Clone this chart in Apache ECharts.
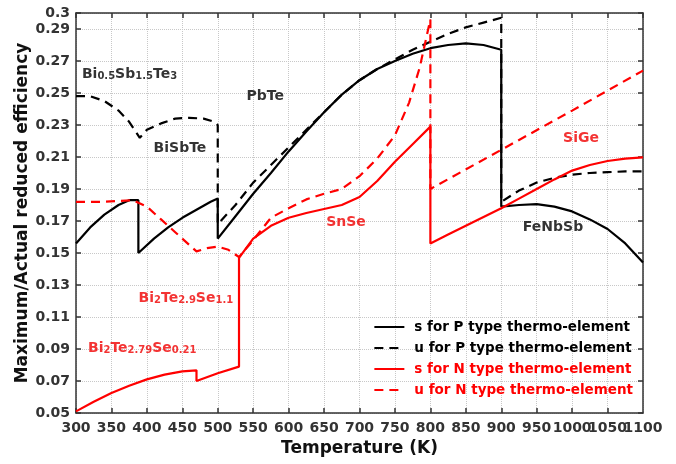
<!DOCTYPE html>
<html>
<head>
<meta charset="utf-8">
<script src="https://cdn.jsdelivr.net/npm/echarts@6/dist/echarts.min.js"></script>
<style>
  html, body { margin: 0; padding: 0; background: #fff; }
  #chart { width: 676px; height: 464px; }
</style>
</head>
<body>
<div id="chart"></div>
<script>
// temperature (K), reduced efficiency
var pSolid = [
	[300, 0.156], [320, 0.166], [340, 0.174], [360, 0.180], [375, 0.183], [388, 0.183],
	[388, 0.150], [410, 0.159], [430, 0.166], [450, 0.172], [470, 0.177], [490, 0.182], [500, 0.184],
	[500, 0.159], [525, 0.173], [550, 0.187], [575, 0.200], [600, 0.2135], [625, 0.226], [650, 0.238],
	[675, 0.249], [700, 0.258], [725, 0.265], [750, 0.270], [775, 0.2745], [800, 0.278], [825, 0.280],
	[850, 0.281], [875, 0.280], [900, 0.277],
	[900, 0.179], [925, 0.180], [950, 0.1805], [975, 0.179], [1000, 0.176], [1025, 0.171],
	[1050, 0.165], [1075, 0.156], [1100, 0.144]
];
var pDash = [
	[300, 0.248], [320, 0.248], [340, 0.245], [360, 0.239], [375, 0.232], [390, 0.222],
	[400, 0.227], [420, 0.231], [440, 0.234], [460, 0.2345], [480, 0.234], [495, 0.232], [500, 0.230],
	[500, 0.168], [525, 0.180], [550, 0.194], [575, 0.205], [600, 0.216], [625, 0.227], [650, 0.238],
	[675, 0.249], [700, 0.258], [725, 0.265], [750, 0.271], [775, 0.277], [800, 0.282], [825, 0.287],
	[850, 0.291], [875, 0.294], [900, 0.297],
	[900, 0.182], [925, 0.189], [950, 0.194], [975, 0.197], [1000, 0.199], [1025, 0.200],
	[1050, 0.2005], [1075, 0.201], [1100, 0.201]
];
var nSolid = [
	[300, 0.051], [325, 0.057], [350, 0.0625], [375, 0.067], [400, 0.071], [425, 0.074],
	[450, 0.076], [470, 0.0767],
	[470, 0.070], [500, 0.0748], [530, 0.079],
	[530, 0.147], [550, 0.159], [575, 0.167], [600, 0.172], [625, 0.175], [650, 0.1775],
	[675, 0.180], [700, 0.185], [725, 0.195], [750, 0.207], [775, 0.218], [800, 0.229],
	[800, 0.156], [825, 0.1615], [850, 0.167], [875, 0.1725], [900, 0.178], [925, 0.184],
	[950, 0.190], [975, 0.196], [1000, 0.2015], [1025, 0.205], [1050, 0.2075], [1075, 0.209], [1100, 0.2098]
];
var nDash = [
	[300, 0.182], [340, 0.182], [380, 0.183], [400, 0.179], [420, 0.171], [440, 0.163],
	[460, 0.155], [470, 0.151], [485, 0.153], [500, 0.154], [515, 0.152], [530, 0.1475],
	[550, 0.158], [575, 0.172], [600, 0.178], [625, 0.1835], [650, 0.187], [675, 0.190],
	[700, 0.198], [725, 0.209], [750, 0.2235], [770, 0.244], [785, 0.266], [800, 0.296],
	[800, 0.190], [900, 0.2145], [1000, 0.239], [1100, 0.264]
];
var seriesNames = [
	's for P type thermo-element',
	'u for P type thermo-element',
	's for N type thermo-element',
	'u for N type thermo-element'
];
// material labels: [T, value, rich text, colour]
var materialLabels = [
	[375.5, 0.2617, '{m|Bi}{s|0.5}{m|Sb}{s|1.5}{m|Te}{s|3}', '#000'],
	[567, 0.248, '{m|PbTe}', '#000'],
	[446.7, 0.2154, '{m|BiSbTe}', '#000'],
	[681, 0.1694, '{m|SnSe}', '#f00000'],
	[1012.5, 0.2215, '{m|SiGe}', '#f00000'],
	[973, 0.1663, '{m|FeNbSb}', '#000'],
	[455, 0.1215, '{m|Bi}{s|2}{m|Te}{s|2.9}{m|Se}{s|1.1}', '#f00000'],
	[393.5, 0.0903, '{m|Bi}{s|2}{m|Te}{s|2.79}{m|Se}{s|0.21}', '#f00000']
];

var FONT = '"DejaVu Sans", sans-serif';
var BLACK = '#000';
var RED = '#ff0000';

function drawChart() {
	var chart = echarts.init(document.getElementById('chart'));

	var tickStyle = { inside: true, length: 5, lineStyle: { color: '#333', width: 1.5 } };
	var lineAxis = { lineStyle: { color: '#333', width: 1.5 } };
	var labelFont = { fontFamily: FONT, fontWeight: 'bold', fontSize: 14, color: '#333' };

	var labelData = materialLabels.map(function (l) {
		return {
			value: [l[0], l[1]],
			label: {
				formatter: l[2],
				color: l[3],
				textBorderWidth: 0,
				rich: {
					m: { fontFamily: FONT, fontWeight: 'bold', fontSize: 14, color: l[3], textBorderWidth: 0, verticalAlign: 'bottom' },
					s: { fontFamily: FONT, fontWeight: 'bold', fontSize: 10, color: l[3], textBorderWidth: 0, verticalAlign: 'bottom' }
				}
			}
		};
	});

	var option = {
		animation: false,
		backgroundColor: '#fff',
		grid: { left: 76, right: 33, top: 13, bottom: 51, outerBoundsMode: 'none' },
		legend: {
			orient: 'vertical',
			right: 43,
			top: 320,
			padding: 0,
			itemWidth: 30,
			itemHeight: 13,
			itemGap: 7,
			itemStyle: { opacity: 0 },
			data: [
				{ name: seriesNames[0], textStyle: { color: BLACK } },
				{ name: seriesNames[1], textStyle: { color: BLACK } },
				{ name: seriesNames[2], textStyle: { color: RED } },
				{ name: seriesNames[3], textStyle: { color: RED } }
			],
			textStyle: { fontFamily: FONT, fontWeight: 'bold', fontSize: 13.5, padding: [0, 0, 0, 5] }
		},
		xAxis: [
			{
				type: 'value', min: 300, max: 1100, interval: 50, position: 'bottom',
				name: 'Temperature (K)', nameLocation: 'middle', nameGap: 27,
				nameTextStyle: { fontFamily: FONT, fontWeight: 'bold', fontSize: 17, color: '#111' },
				axisLine: lineAxis, axisTick: tickStyle,
				axisLabel: Object.assign({
					margin: 8, showMinLabel: true, showMaxLabel: false,
					formatter: function (v) { return String(v); }
				}, labelFont),
				splitLine: { show: true, lineStyle: { color: '#c8c8c8', type: 'dotted', width: 1 } }
			},
			{
				type: 'value', min: 300, max: 1100, interval: 50, position: 'top',
				axisLine: lineAxis, axisTick: tickStyle,
				axisLabel: { show: false }, splitLine: { show: false }
			},
			{
				// carries only the last tick label so the crowded 1050 label stays visible
				type: 'value', min: 300, max: 1100, interval: 50, position: 'bottom',
				axisLine: { show: false }, axisTick: { show: false }, splitLine: { show: false },
				axisLabel: Object.assign({
					margin: 8, showMinLabel: false, showMaxLabel: true,
					formatter: function (v) { return v === 1100 ? '1100' : ''; }
				}, labelFont)
			}
		],
		yAxis: [
			{
				type: 'value', min: 0.05, max: 0.3, interval: 0.02, position: 'left',
				name: 'Maximum/Actual reduced efficiency', nameLocation: 'middle', nameGap: 45,
				nameMoveOverlap: false,
				nameTextStyle: { fontFamily: FONT, fontWeight: 'bold', fontSize: 17, color: '#111' },
				axisLine: lineAxis, axisTick: tickStyle,
				axisLabel: Object.assign({
					margin: 6, showMinLabel: true, showMaxLabel: true,
					formatter: function (v) { return String(+v.toFixed(2)); }
				}, labelFont),
				splitLine: { show: true, lineStyle: { color: '#c8c8c8', type: 'dotted', width: 1 } }
			},
			{
				type: 'value', min: 0.05, max: 0.3, interval: 0.02, position: 'right',
				axisLine: lineAxis, axisTick: tickStyle,
				axisLabel: { show: false }, splitLine: { show: false }
			}
		],
		series: [
			{
				name: seriesNames[0], type: 'line', data: pSolid, symbol: 'none',
				color: BLACK, lineStyle: { color: BLACK, width: 2.2 }
			},
			{
				name: seriesNames[1], type: 'line', data: pDash, symbol: 'none',
				color: BLACK, lineStyle: { color: BLACK, width: 2.2, type: [9, 6] }
			},
			{
				name: seriesNames[2], type: 'line', data: nSolid, symbol: 'none',
				color: RED, lineStyle: { color: RED, width: 2.2 }
			},
			{
				name: seriesNames[3], type: 'line', data: nDash, symbol: 'none',
				color: RED, lineStyle: { color: RED, width: 2.2, type: [9, 6] }
			},
			{
				type: 'scatter', symbolSize: 0, silent: true,
				label: { show: true, position: 'inside', textBorderWidth: 0 },
				data: labelData
			}
		]
	};
	chart.setOption(option);
}

drawChart();
</script>
</body>
</html>
